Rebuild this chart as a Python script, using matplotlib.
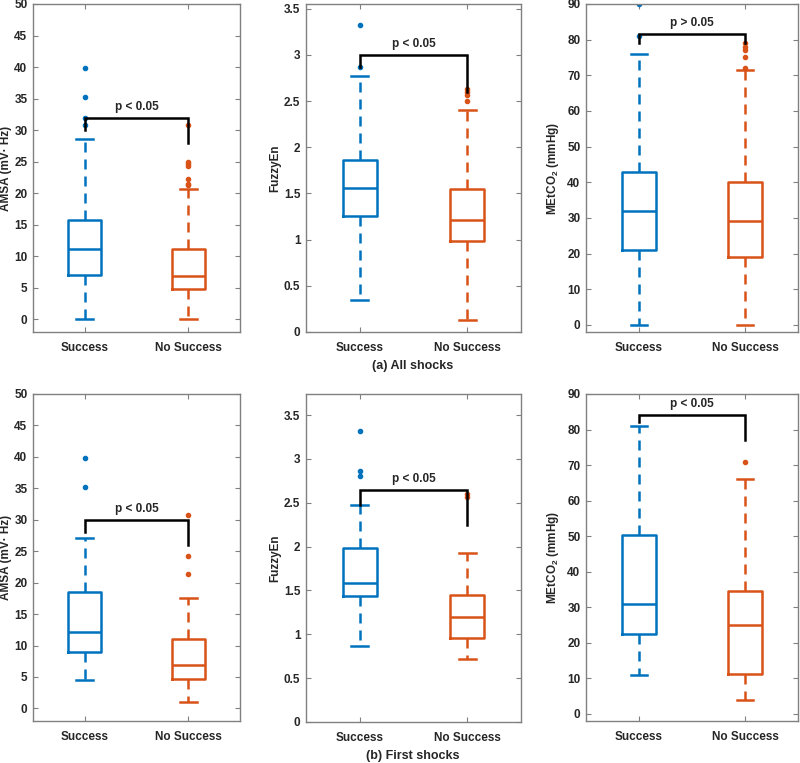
import matplotlib
matplotlib.use("Agg")
import matplotlib.pyplot as plt

plt.rcParams['font.family'] = ['Liberation Sans', 'DejaVu Sans']
plt.rcParams['font.weight'] = 'bold'
plt.rcParams['mathtext.fontset'] = 'custom'
plt.rcParams['mathtext.rm'] = 'Liberation Sans:bold'
plt.rcParams['mathtext.bf'] = 'Liberation Sans:bold'
plt.rcParams['mathtext.default'] = 'rm'

categories = ["Success", "No Success"]
colors = ["#0072BD", "#D95319"]

# stats per panel: [whislo, q1, med, q3, whishi, fliers]
amsa_all = [
    [0.0, 7.1, 11.1, 15.7, 28.6, [30.8, 32.0, 35.2, 39.9]],
    [0.0, 4.8, 6.9, 11.1, 20.6, [21.3, 21.5, 22.3, 24.3, 24.7, 25.0, 30.8]],
]
fuzzy_all = [
    [0.35, 1.26, 1.56, 1.86, 2.77, [2.87, 3.32]],
    [0.13, 0.98, 1.21, 1.55, 2.40, [2.50, 2.56, 2.60, 2.63]],
]
metco2_all = [
    [0.0, 21.0, 32.0, 43.0, 76.0, [81.0, 90.0]],
    [0.0, 19.0, 29.0, 40.0, 71.5, [72.0, 75.0, 77.0, 78.0, 79.0]],
]
amsa_first = [
    [4.5, 9.0, 12.2, 18.5, 27.1, [35.2, 39.9]],
    [1.1, 4.7, 6.9, 11.0, 17.5, [21.4, 24.2, 30.8]],
]
fuzzy_first = [
    [0.87, 1.44, 1.59, 1.98, 2.48, [2.80, 2.86, 3.32]],
    [0.72, 0.96, 1.20, 1.45, 1.93, [2.57, 2.60]],
]
metco2_first = [
    [11.0, 22.5, 31.0, 50.3, 81.0, []],
    [4.0, 11.3, 25.0, 34.5, 66.0, [71.0]],
]

# bracket: [y_top, left_end, right_end], p-text
brackets = [
    ([32.0, 30.0, 28.0], "p < 0.05"),
    ([3.0, 2.87, 2.60], "p < 0.05"),
    ([81.5, 79.0, 79.0], "p > 0.05"),
    ([30.0, 28.0, 26.0], "p < 0.05"),
    ([2.65, 2.48, 2.25], "p < 0.05"),
    ([84.0, 82.0, 77.0], "p < 0.05"),
]

panels_data = [amsa_all, fuzzy_all, metco2_all, amsa_first, fuzzy_first, metco2_first]
ylabels = ["AMSA (mV\u00b7 Hz)", "FuzzyEn", "MEtCO$_2$ (mmHg)"] * 2
ylims = [(-2, 50), (0, 3.55), (-2, 90), (-2, 50), (0, 3.74), (-2, 90)]
yticks = [list(range(0, 51, 5)), [0, 0.5, 1, 1.5, 2, 2.5, 3, 3.5], list(range(0, 91, 10))] * 2
ytl_fuzzy = ["0", "0.5", "1", "1.5", "2", "2.5", "3", "3.5"]

W, H = 800, 763
fig = plt.figure(figsize=(W / 100, H / 100), dpi=100)

# pixel boxes: left, top, right, bottom
boxes_px = [
    (33, 4, 240, 332), (306, 4, 521, 332), (586, 4, 798, 332),
    (33, 394, 240, 721), (306, 394, 521, 722), (586, 394, 798, 721),
]
# y-label centre x offset (pixels left of axes)
ylab_off = [27, 31, 33, 27, 31, 33]

spine_c = "#808080"
text_c = "#262626"
fs = 8.5

for i, (bx, data) in enumerate(zip(boxes_px, panels_data)):
    l, t, r, b = bx
    ax = fig.add_axes([l / W, 1 - b / H, (r - l) / W, (b - t) / H])
    for k, d in enumerate(data):
        s = dict(whislo=d[0], q1=d[1], med=d[2], q3=d[3], whishi=d[4],
                 fliers=d[5], label=categories[k])
        c = colors[k]
        ax.bxp([s], positions=[k + 1], widths=0.32, showfliers=True,
               boxprops=dict(color=c, linewidth=1.8),
               medianprops=dict(color=c, linewidth=1.8),
               whiskerprops=dict(color=c, linewidth=1.8, linestyle=(0, (4, 2.8))),
               capprops=dict(color=c, linewidth=1.8),
               capwidths=0.16,
               flierprops=dict(marker='o', markersize=3.0, markerfacecolor=c,
                               markeredgecolor=c, linestyle='none'))
    ax.set_xlim(0.5, 2.5)
    ax.set_ylim(*ylims[i])
    ax.set_xticks([1, 2])
    ax.set_xticklabels(categories, fontsize=fs, fontweight='bold', color=text_c)
    ax.set_yticks(yticks[i])
    if i in (1, 4):
        ax.set_yticklabels(ytl_fuzzy)
    for lab in ax.get_yticklabels():
        lab.set_fontsize(fs)
        lab.set_fontweight('bold')
        lab.set_color(text_c)
    ax.tick_params(direction='in', length=3.5, width=0.8, color=spine_c,
                   top=True, right=True, pad=4)
    ax.tick_params(axis='x', pad=7)
    for sp in ax.spines.values():
        sp.set_color(spine_c)
        sp.set_linewidth(1.0)
    ax.set_ylabel(ylabels[i], fontsize=fs, fontweight='bold', color=text_c)
    ax.yaxis.set_label_coords(-ylab_off[i] / (r - l), 0.5)
    ax.yaxis.label.set_va('center')

    (ytop, yl, yr), ptxt = brackets[i]
    ax.plot([1, 1, 2, 2], [yl, ytop, ytop, yr], color='black', linewidth=1.8,
            solid_joinstyle='miter')
    span = ylims[i][1] - ylims[i][0]
    ax.text(1.5, ytop + span * 0.015, ptxt, ha='center', va='bottom',
            fontsize=fs, fontweight='bold', color=text_c)

fig.text(413 / W, 1 - 366 / H, "(a) All shocks", ha='center', va='center',
         fontsize=9, fontweight='bold', color=text_c)
fig.text(413 / W, 1 - 756 / H, "(b) First shocks", ha='center', va='center',
         fontsize=9, fontweight='bold', color=text_c)

fig.savefig("out.png", dpi=100, facecolor='white')
